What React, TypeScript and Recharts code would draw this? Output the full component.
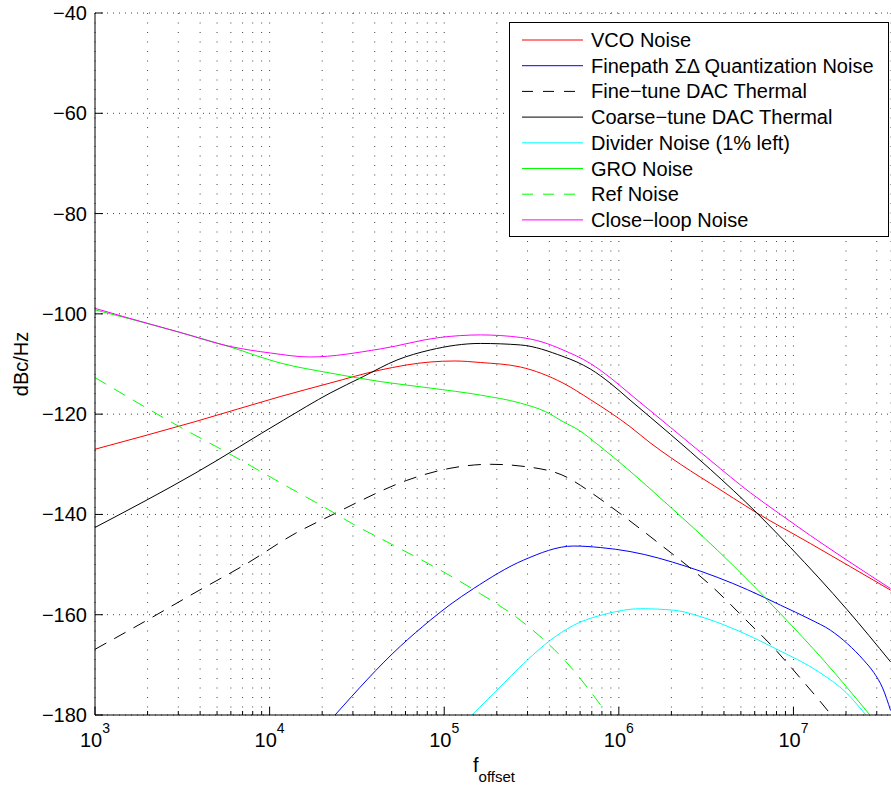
import React from 'react';
import { LineChart, Line, XAxis, YAxis, CartesianGrid, Legend } from 'recharts';

// ---- data (frequency offset in Hz, phase noise in dBc/Hz) ----
const vcoF = [1e3, 3.74e3, 1.15e4, 2.22e4, 4.3e4, 8.32e4, 1.15e5, 1.61e5, 2.73e5, 4.79e5, 6.87e5, 1.16e6, 1.51e6, 1.97e6, 2.57e6, 3.34e6, 6.17e6, 1.25e7, 3.6e7];
const vcoDb = [-127.0, -121.5, -116.5, -113.8, -111.2, -109.6, -109.4, -109.7, -110.6, -113.8, -117.1, -122.5, -125.7, -128.6, -131.3, -133.8, -139.7, -145.8, -155.1];

const sdF = [2.37e4, 5.6e4, 8.32e4, 1.08e5, 1.47e5, 2.85e5, 5.51e5, 7.83e5, 1.16e6, 2.45e6, 5.45e6, 8.43e6, 1.26e7, 1.63e7, 2.04e7, 2.53e7, 2.88e7, 3.24e7, 3.6e7];
const sdDb = [-180, -166.3, -161.1, -158.0, -154.8, -149.1, -146.3, -146.6, -147.4, -150.4, -155.0, -158.1, -161.0, -163.1, -165.8, -169.1, -171.5, -174.6, -179.1];

const fineF = [1e3, 1.94e3, 3.74e3, 7.24e3, 1.4e4, 2.37e4, 3.09e4, 6.11e4, 1.08e5, 1.84e5, 2.98e5, 5.05e5, 6.03e5, 7.18e5, 1.07e6, 1.73e6, 3.47e6, 5.62e6, 7.71e6, 8.99e6, 1.15e7, 1.4e7, 1.63e7];
const fineDb = [-166.9, -161.3, -155.6, -150.0, -143.8, -139.8, -137.8, -133.2, -130.8, -130.0, -130.5, -132.6, -134.2, -136.0, -140.4, -146.0, -154.6, -161.8, -166.6, -169.2, -173.5, -177.0, -179.8];

const coarseF = [1e3, 3.74e3, 1.2e4, 2.22e4, 3.44e4, 5.37e4, 8.32e4, 1.61e5, 2.73e5, 4.79e5, 5.75e5, 6.87e5, 8.91e5, 1.16e6, 1.97e6, 3.34e6, 6.17e6, 9.62e6, 2.03e7, 3.6e7];
const coarseDb = [-142.6, -131.8, -121.2, -115.8, -112.5, -109.2, -107.2, -105.9, -106.2, -108.5, -109.6, -111.0, -113.8, -117.2, -124.0, -131.0, -139.7, -146.6, -159.0, -169.4];

const divF = [1.44e5, 1.92e5, 2.98e5, 4.05e5, 5.51e5, 8.55e5, 1.33e6, 2.06e6, 3.2e6, 4.97e6, 7.94e6, 1.41e7, 2.0e7, 2.6e7];
const divDb = [-180, -175.7, -169.1, -165.1, -162.1, -159.8, -158.8, -159.1, -160.8, -163.4, -166.8, -171.5, -175.5, -180];

const groF = [1e3, 3.07e3, 5.94e3, 1.15e4, 2.22e4, 4.3e4, 8.32e4, 1.61e5, 2.73e5, 3.8e5, 4.79e5, 6.03e5, 7.41e5, 9.33e5, 1.97e6, 3.66e6, 8.43e6, 1.49e7, 2.74e7];
const groDb = [-99.2, -103.7, -106.6, -109.8, -111.8, -113.5, -114.8, -116.2, -117.8, -119.5, -121.5, -123.4, -125.8, -128.6, -138.5, -147.1, -159.8, -169.1, -180];

const refF = [1e3, 2.87e3, 5.81e3, 1.17e4, 2.37e4, 2.96e4, 4.9e4, 9.48e4, 1.61e5, 2.73e5, 5.05e5, 8.02e5];
const refDb = [-112.7, -122.0, -127.8, -133.8, -139.8, -141.8, -145.8, -151.1, -155.8, -161.1, -169.6, -178.4];

const closeF = [1e3, 1.58e3, 3.07e3, 5.94e3, 1.01e4, 1.7e4, 4.3e4, 9.48e4, 1.61e5, 2.73e5, 3.63e5, 4.79e5, 6.87e5, 8.91e5, 1.16e6, 1.97e6, 3.34e6, 5.68e6, 8.43e6, 1.25e7, 2.0e7, 3.6e7];
const closeDb = [-98.9, -100.9, -103.7, -106.5, -107.8, -108.6, -107.0, -104.7, -104.2, -104.7, -105.6, -107.2, -109.9, -112.7, -116.0, -122.6, -129.2, -135.7, -140.0, -144.2, -149.0, -154.8];

const seriesNames = [
  'VCO Noise',
  'Finepath \u03A3\u0394 Quantization Noise',
  'Fine\u2212tune DAC Thermal',
  'Coarse\u2212tune DAC Thermal',
  'Divider Noise (1% left)',
  'GRO Noise',
  'Ref Noise',
  'Close\u2212loop Noise',
];

const xTicks = [
  1e3, 2e3, 3e3, 4e3, 5e3, 6e3, 7e3, 8e3, 9e3,
  1e4, 2e4, 3e4, 4e4, 5e4, 6e4, 7e4, 8e4, 9e4,
  1e5, 2e5, 3e5, 4e5, 5e5, 6e5, 7e5, 8e5, 9e5,
  1e6, 2e6, 3e6, 4e6, 5e6, 6e6, 7e6, 8e6, 9e6,
  1e7, 2e7, 3e7,
];
const yTicks = [-180, -160, -140, -120, -100, -80, -60, -40];

const toPts = (fs: number[], dbs: number[]) => fs.map((f, i) => ({ f, db: dbs[i] }));

const series = [
  { name: seriesNames[0], data: toPts(vcoF, vcoDb), color: '#ff0000', dash: false },
  { name: seriesNames[1], data: toPts(sdF, sdDb), color: '#0000ff', dash: false },
  { name: seriesNames[2], data: toPts(fineF, fineDb), color: '#000000', dash: true },
  { name: seriesNames[3], data: toPts(coarseF, coarseDb), color: '#000000', dash: false },
  { name: seriesNames[4], data: toPts(divF, divDb), color: '#00ffff', dash: false },
  { name: seriesNames[5], data: toPts(groF, groDb), color: '#00ff00', dash: false },
  { name: seriesNames[6], data: toPts(refF, refDb), color: '#00ff00', dash: true },
  { name: seriesNames[7], data: toPts(closeF, closeDb), color: '#ff00ff', dash: false },
];

const FONT = '"Liberation Sans", Arial, Helvetica, sans-serif';
const X_DOMAIN: [number, number] = [1e3, 3.62e7];

const isMajor = (v: number) => Math.abs(Math.log10(v) - Math.round(Math.log10(v))) < 1e-6;

const BottomTick = (props: any) => {
  const { x, y, payload } = props;
  const v = payload.value;
  const major = isMajor(v);
  return (
    <g>
      <line x1={x} y1={y} x2={x} y2={y - (major ? 8 : 4)} stroke="#000" strokeWidth={1} />
      {major && (
        <text x={x} y={y + 32} textAnchor="middle" fontSize={20} fontFamily={FONT} fill="#000">
          <tspan>10</tspan>
          <tspan dy={-14} fontSize={14}>{Math.round(Math.log10(v))}</tspan>
        </text>
      )}
    </g>
  );
};

const TopTick = (props: any) => {
  const { x, y, payload } = props;
  const major = isMajor(payload.value);
  return <line x1={x} y1={y} x2={x} y2={y + (major ? 8 : 4)} stroke="#000" strokeWidth={1} />;
};

const LeftTick = (props: any) => {
  const { x, y, payload } = props;
  const v = payload.value as number;
  const label = v < 0 ? '\u2212' + Math.abs(v) : String(v);
  return (
    <g>
      <line x1={x} y1={y} x2={x + 8} y2={y} stroke="#000" strokeWidth={1} />
      <text x={x - 8} y={y + 7} textAnchor="end" fontSize={20} fontFamily={FONT} fill="#000">
        {label}
      </text>
    </g>
  );
};

const LegendBox = () => (
  <svg width={380} height={215} style={{ display: 'block' }}>
    <rect x={0.5} y={0.5} width={379} height={214} fill="#fff" stroke="#000" strokeWidth={1} />
    {series.map((s, i) => {
      const cy = 18 + i * 25.7;
      return (
        <g key={s.name}>
          <line x1={13} x2={74} y1={cy} y2={cy} stroke={s.color} strokeWidth={1}
            strokeDasharray={s.dash ? '11 10' : undefined} />
          <text x={82} y={cy + 7} fontSize={20} fontFamily={FONT} fill="#000">{s.name}</text>
        </g>
      );
    })}
  </svg>
);

export default function App() {
  return (
    <div style={{ position: 'absolute', left: 0, top: 0, width: 891, height: 786, background: '#fff' }}>
      <LineChart width={891} height={786} margin={{ top: 13, right: 0, bottom: 0, left: 0 }}>
        <CartesianGrid horizontal={false} vertical strokeDasharray="1 8.5" stroke="#444" />
        <CartesianGrid vertical={false} horizontal strokeDasharray="1 5" stroke="#444" />
        <XAxis
          dataKey="f"
          type="number"
          scale="log"
          domain={X_DOMAIN}
          allowDataOverflow
          ticks={xTicks}
          interval={0}
          height={71}
          tickLine={false}
          tickSize={0}
          tickMargin={0}
          tick={BottomTick}
          axisLine={{ stroke: '#000' }}
          label={{
            content: () => (
              <text x={473} y={772} fontSize={20} fontFamily={FONT} fill="#000">
                f<tspan dy={10} fontSize={15}>offset</tspan>
              </text>
            ),
          }}
        />
        <XAxis
          xAxisId="top"
          orientation="top"
          dataKey="f"
          type="number"
          scale="log"
          domain={X_DOMAIN}
          allowDataOverflow
          ticks={xTicks}
          interval={0}
          height={0}
          tickLine={false}
          tickSize={0}
          tickMargin={0}
          tick={TopTick}
          axisLine={{ stroke: '#000' }}
        />
        <YAxis
          dataKey="db"
          type="number"
          domain={[-180, -40]}
          allowDataOverflow
          ticks={yTicks}
          interval={0}
          width={95}
          tickLine={false}
          tickSize={0}
          tickMargin={0}
          tick={LeftTick}
          axisLine={{ stroke: '#000' }}
          label={{
            content: () => (
              <text transform="translate(28,364) rotate(-90)" textAnchor="middle" fontSize={20}
                fontFamily={FONT} fill="#000">dBc/Hz</text>
            ),
          }}
        />
        <Legend
          layout="vertical"
          align="center"
          verticalAlign="middle"
          wrapperStyle={{ position: 'absolute', left: 509, top: 22, width: 380, height: 215 }}
          content={() => <LegendBox />}
        />
        {series.map((s) => (
          <Line
            key={s.name}
            name={s.name}
            data={s.data}
            dataKey="db"
            type="monotone"
            stroke={s.color}
            strokeWidth={1}
            strokeDasharray={s.dash ? '13 9' : undefined}
            dot={false}
            activeDot={false}
            isAnimationActive={false}
          />
        ))}
      </LineChart>
    </div>
  );
}
